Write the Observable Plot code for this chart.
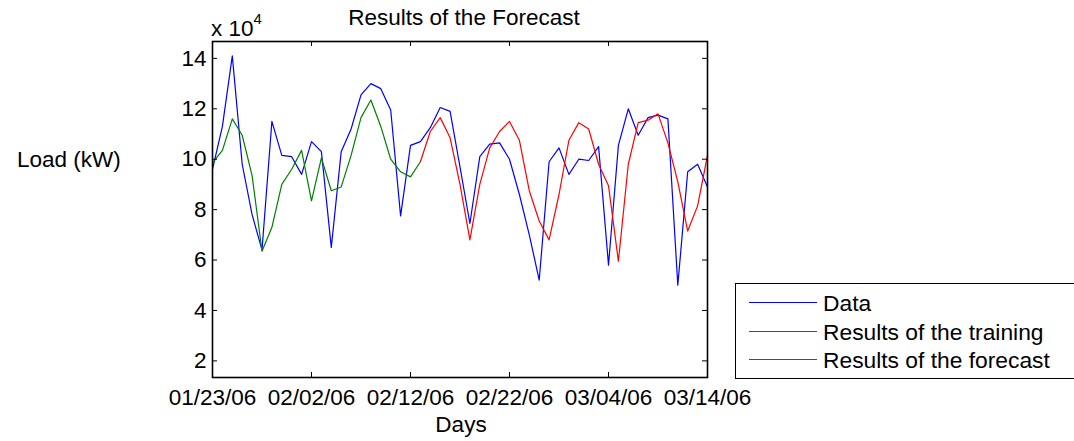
<!DOCTYPE html>
<html>
<head>
<meta charset="utf-8">
<script src="https://cdn.jsdelivr.net/npm/d3@7"></script>
<script src="https://cdn.jsdelivr.net/npm/@observablehq/plot@0.6"></script>
<style>
  html, body { margin: 0; padding: 0; background: #fff; }
  #wrap { position: relative; width: 1074px; height: 441px; overflow: hidden;
          font-family: "Liberation Sans", Arial, Helvetica, sans-serif; color: #000; }
  #wrap svg { position: absolute; left: 0; top: 0; }
  .lbl { position: absolute; font-size: 22.5px; line-height: 22px; white-space: nowrap; }
  #title { left: 464px; top: 7px; transform: translateX(-50%); }
  #scale { left: 211px; top: 11px; }
  #scale sup { font-size: 15px; position: relative; top: -3px; }
  #ylabel { left: 17px; top: 149px; }
  #xlabel { left: 461px; top: 414px; transform: translateX(-50%); }
  #legend { position: absolute; left: 735px; top: 283px; width: 360px; height: 94px;
            border: 1.5px solid #000; background: #fff; }
  .row { position: absolute; left: 13px; height: 22px; }
  .row .sw { position: absolute; left: 0; top: 10px; width: 68px; height: 0; border-top: 1.2px solid; }
  .row .tx { position: absolute; left: 74px; top: 0; font-size: 22.8px; line-height: 22px; white-space: nowrap; }
</style>
</head>
<body>
<div id="wrap">
  <div id="title" class="lbl">Results of the Forecast</div>
  <div id="scale" class="lbl">x 10<sup>4</sup></div>
  <div id="ylabel" class="lbl">Load (kW)</div>
  <div id="xlabel" class="lbl">Days</div>
  <div id="legend"></div>
</div>
<script>
// Daily load from 01/23/06 onwards (kW)
const startDate = new Date(Date.UTC(2006, 0, 23));
const endDate = new Date(Date.UTC(2006, 2, 14));

// Measured load, one value per day starting 01/23/06
const dataLoad = [
  96000, 113000, 141000, 98000, 78000, 64000, 115000, 101500, 101000, 94000,
  107000, 103000, 65000, 103000, 112000, 125500, 130000, 128000, 119500, 77500,
  105500, 107000, 112500, 120500, 119000, 97000, 74500, 101000, 106000, 106500,
  100000, 86000, 70000, 52000, 99000, 104500, 94000, 100000, 99500, 105000,
  58000, 105500, 120000, 109500, 116500, 117500, 116000, 50000, 95000, 98000,
  89000
];

// Network output on the training period, starting 01/23/06
const trainingLoad = [
  98500, 103500, 116000, 109500, 93500, 63500, 73000, 90000, 96000, 103500,
  83500, 100500, 87500, 89000, 101500, 116500, 123500, 113000, 100000, 95000,
  93000, 99000
];

// Forecast output, starting 02/13/06 (day 21)
const forecastStartDay = 21;
const forecastLoad = [
  99000, 111000, 116500, 108500, 90000, 68000, 90000, 104500, 111000, 115000,
  107500, 87500, 75500, 68000, 86000, 107500, 114500, 112000, 98000, 89500,
  59500, 98000, 114500, 115500, 118000, 106500, 91000, 71500, 81500, 101500
];

const xTickDates = ["2006-01-23", "2006-02-02", "2006-02-12", "2006-02-22", "2006-03-04", "2006-03-14"];
const yTickValues = [20000, 40000, 60000, 80000, 100000, 120000, 140000];

const seriesNames = ["Data", "Results of the training", "Results of the forecast"];
const seriesColors = ["#0000ff", "#008000", "#ff0000"];

const dayToDate = d => new Date(startDate.getTime() + d * 86400000);
const toRows = (values, offset) => values.map((v, i) => ({date: dayToDate(offset + i), load: v}));

const dataRows = toRows(dataLoad, 0);
const trainingRows = toRows(trainingLoad, 0);
const forecastRows = toRows(forecastLoad, forecastStartDay);
const xTicks = xTickDates.map(s => new Date(s + "T00:00:00Z"));

const fmtDate = d3.utcFormat("%m/%d/%y");

const W = 1074, H = 441, mL = 212, mR = 367, mT = 41, mB = 64;
const innerW = W - mL - mR, innerH = H - mT - mB;
const tickLen = 5;

const chart = Plot.plot({
  width: W,
  height: H,
  marginLeft: mL,
  marginRight: mR,
  marginTop: mT,
  marginBottom: mB,
  style: {fontFamily: "'Liberation Sans', Arial, Helvetica, sans-serif", fontSize: "22.5px", color: "#000", background: "transparent"},
  x: {type: "utc", domain: [startDate, endDate]},
  y: {domain: [13400, 146700]},
  marks: [
    Plot.line(dataRows, {x: "date", y: "load", stroke: seriesColors[0], strokeWidth: 1.2}),
    Plot.line(trainingRows, {x: "date", y: "load", stroke: seriesColors[1], strokeWidth: 1.2}),
    Plot.line(forecastRows, {x: "date", y: "load", stroke: seriesColors[2], strokeWidth: 1.2}),
    // inward tick marks on all four sides
    Plot.tickY(yTickValues, {y: d => d, insetRight: innerW - tickLen, stroke: "#000"}),
    Plot.tickY(yTickValues, {y: d => d, insetLeft: innerW - tickLen, stroke: "#000"}),
    Plot.tickX(xTicks, {x: d => d, insetTop: innerH - tickLen, stroke: "#000"}),
    Plot.tickX(xTicks, {x: d => d, insetBottom: innerH - tickLen, stroke: "#000"}),
    Plot.axisX({anchor: "bottom", ticks: xTicks, tickFormat: fmtDate, tickSize: 0, tickPadding: 12, label: null}),
    Plot.axisY({anchor: "left", ticks: yTickValues, tickFormat: d => d / 10000, tickSize: 0, tickPadding: 6, label: null}),
    Plot.frame({stroke: "#000", strokeWidth: 1.6})
  ]
});
document.getElementById("wrap").prepend(chart);

// legend entries
const legend = document.getElementById("legend");
const rowTops = [8, 37, 65];
seriesNames.forEach((name, i) => {
  const row = document.createElement("div");
  row.className = "row";
  row.style.top = rowTops[i] + "px";
  row.innerHTML = `<div class="sw" style="border-color:${seriesColors[i]}"></div><div class="tx">${name}</div>`;
  legend.appendChild(row);
});
</script>
</body>
</html>
